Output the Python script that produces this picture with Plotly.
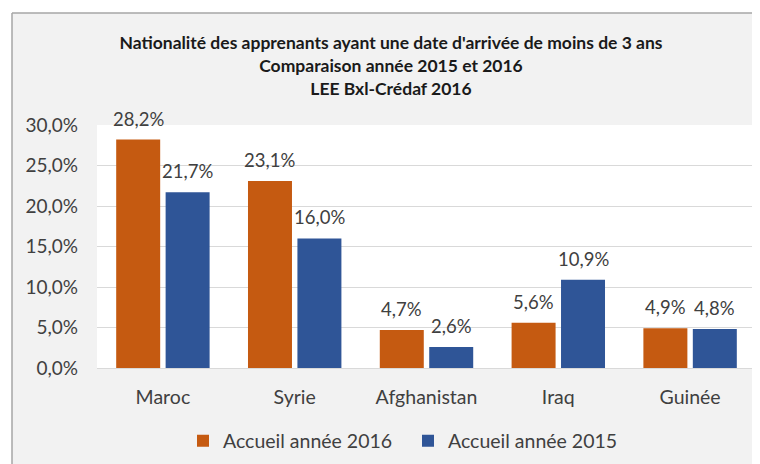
import plotly.graph_objects as go

categories = ["Maroc", "Syrie", "Afghanistan", "Iraq", "Guinée"]
series_names = ["Accueil année 2016", "Accueil année 2015"]
values_2016 = [0.282, 0.231, 0.047, 0.056, 0.049]
values_2015 = [0.217, 0.160, 0.026, 0.109, 0.048]
tick_vals = [0, 0.05, 0.10, 0.15, 0.20, 0.25, 0.30]

colors = ["#C55A11", "#2F5597"]
FONT = "Lato"

# page body adds an 8px offset; figure is sized to fill the rest of the window
OFF = 8
W, H = 760 - OFF, 464 - OFF
ML, MR, MT, MB = 97 - OFF, 4, 125 - OFF, 96
PW, PH = W - ML - MR, H - MT - MB


def px_x(px):
    return (px - OFF - ML) / PW


def px_y(py):
    return (H - MB - (py - OFF)) / PH


fig = go.Figure()
for name, vals, col in zip(series_names, [values_2016, values_2015], colors):
    fig.add_trace(go.Bar(
        x=categories, y=vals, name=name, marker=dict(color=col, line=dict(width=0)),
    ))

# data labels
cat_w = PW / len(categories)
bargap = 0.25
slot = cat_w * (1 - bargap) / 2
annotations = []
for j, vals in enumerate([values_2016, values_2015]):
    shift = (j - 0.5) * slot
    for c, v in zip(categories, vals):
        annotations.append(dict(
            x=c, y=v, xref="x", yref="y", text=f"{v*100:.1f}%".replace(".", ","),
            showarrow=False, xshift=shift, yshift=8, yanchor="bottom",
            font=dict(family=FONT, size=18.5, color="#404040"),
        ))

shapes = [
    dict(type="rect", xref="paper", yref="paper", x0=-1, x1=2, y0=px_y(13), y1=3,
         fillcolor="white", line=dict(width=0), layer="below"),
    dict(type="rect", xref="paper", yref="paper", x0=-1, x1=px_x(12), y0=-1, y1=3,
         fillcolor="white", line=dict(width=0), layer="below"),
    dict(type="line", xref="paper", yref="paper", x0=px_x(12), x1=2, y0=px_y(13), y1=px_y(13),
         line=dict(color="#a6a6a6", width=1.5), layer="below"),
    dict(type="line", xref="paper", yref="paper", x0=px_x(12), x1=px_x(12), y0=-1, y1=px_y(13),
         line=dict(color="#a6a6a6", width=1.5), layer="below"),
]

fig.update_layout(
    width=W, height=H,
    margin=dict(l=ML, r=MR, t=MT, b=MB),
    paper_bgcolor="#f2f2f2", plot_bgcolor="white",
    separators=",.",
    barmode="group", bargap=bargap, bargroupgap=0.11,
    font=dict(family=FONT, color="#595959"),
    title=dict(
        text="<b>Nationalité des apprenants ayant une date d'arrivée de moins de 3 ans<br>"
             "Comparaison année 2015 et 2016<br>LEE Bxl-Crédaf 2016</b>",
        x=(391 - OFF) / W, xanchor="center", xref="container",
        y=1 - (49 - OFF) / H, yanchor="middle", yref="container",
        font=dict(family=FONT, size=17.5, color="#1a1a1a"),
    ),
    xaxis=dict(
        showgrid=False, showline=True, linecolor="#d9d9d9", linewidth=1,
        ticks="", ticklabelstandoff=12,
        tickfont=dict(family=FONT, size=19.5, color="#404040"),
    ),
    yaxis=dict(
        range=[0, 0.30], tickvals=tick_vals, tickformat=".1%",
        showgrid=True, gridcolor="#d9d9d9", gridwidth=1, zeroline=False,
        showline=False, ticks="", ticklabelstandoff=18,
        tickfont=dict(family=FONT, size=19, color="#404040"),
    ),
    legend=dict(
        orientation="h", x=px_x(183), xanchor="left", y=px_y(441), yanchor="middle",
        font=dict(family=FONT, size=19.5, color="#404040"), bgcolor="rgba(0,0,0,0)",
        entrywidth=180, entrywidthmode="pixels",
    ),
    annotations=annotations,
    shapes=shapes,
)

fig.write_html("out.html")
